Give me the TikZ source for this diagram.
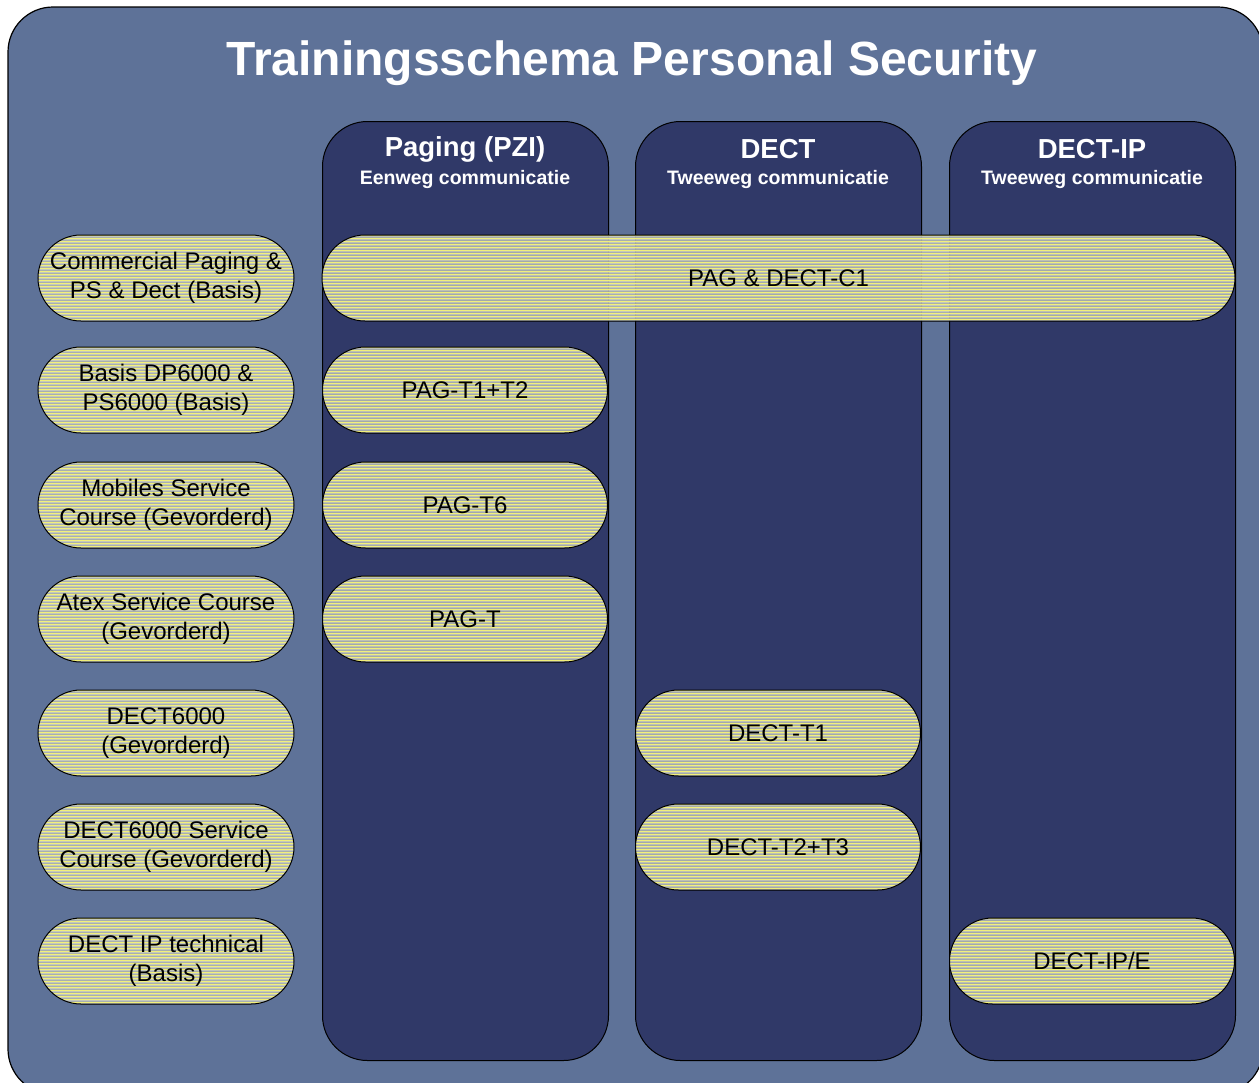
\documentclass[tikz,border=0pt]{standalone}
\usepackage{fontspec}
\setmainfont{Liberation Sans}
\definecolor{bgblue}{RGB}{94,114,152}
\definecolor{colblue}{RGB}{48,57,104}
\definecolor{pillbase}{RGB}{214,217,196}
\definecolor{stripeY}{RGB}{242,240,122}
\definecolor{stripeD}{RGB}{120,128,150}
\tikzset{
  pill/.style={rectangle, draw=black, line width=1bp, inner sep=0pt,
    minimum height=86bp, rounded corners=43bp, align=center,
    font=\fontsize{24bp}{29bp}\selectfont, text=black,
    path picture={
      \fill[pillbase, opacity=0.85, sharp corners] (path picture bounding box.north west)
        rectangle (path picture bounding box.south east);
      \foreach \k in {0,...,28}{
        \fill[stripeY, sharp corners] ([yshift=-\k*3bp]path picture bounding box.north west)
          rectangle ([yshift=-\k*3bp-1.1bp]path picture bounding box.north east);
        \fill[stripeD, opacity=0.35, sharp corners] ([yshift=-\k*3bp-2bp]path picture bounding box.north west)
          rectangle ([yshift=-\k*3bp-2.7bp]path picture bounding box.north east);
      }}},
  leftpill/.style={pill, minimum width=256bp},
  colpill/.style={pill, minimum width=285bp},
  column/.style={rectangle, draw=black, line width=1bp, fill=colblue,
    rounded corners=45bp, minimum width=286bp, minimum height=939bp,
    anchor=north west, inner sep=0pt},
  colhead/.style={text=white, font=\bfseries\fontsize{27.5bp}{30bp}\selectfont},
  colsub/.style={text=white, font=\bfseries\fontsize{19.5bp}{22bp}\selectfont},
}
\begin{document}
\begin{tikzpicture}[x=1bp,y=-1bp]
\useasboundingbox (0,0) rectangle (1259,1083);
\draw[fill=bgblue, line width=1.2bp, rounded corners=45bp] (8,7) rectangle (1263,1094);
\node[text=white, font=\bfseries\fontsize{48bp}{52bp}\selectfont] (title) at (632,63) {Trainingsschema Personal Security};

\node[column] (c1) at (322,121) {};
\node[column] (c2) at (635,121) {};
\node[column] (c3) at (949,121) {};

\node[colhead] (h1) at (465,149) {Paging (PZI)};
\node[colsub] (s1) at (465,179) {Eenweg communicatie};
\node[colhead] (h2) at (778,149) {DECT};
\node[colsub] (s2) at (778,179) {Tweeweg communicatie};
\node[colhead] (h3) at (1092,149) {DECT-IP};
\node[colsub] (s3) at (1092,179) {Tweeweg communicatie};

\node[leftpill] (l1) at (166,278) {Commercial Paging \&\\PS \& Dect (Basis)};
\node[leftpill] (l2) at (166,390) {Basis DP6000 \&\\PS6000 (Basis)};
\node[leftpill] (l3) at (166,505) {Mobiles Service\\Course (Gevorderd)};
\node[leftpill] (l4) at (166,619) {Atex Service Course\\(Gevorderd)};
\node[leftpill] (l5) at (166,733) {DECT6000\\(Gevorderd)};
\node[leftpill] (l6) at (166,847) {DECT6000 Service\\Course (Gevorderd)};
\node[leftpill] (l7) at (166,961) {DECT IP technical\\(Basis)};

\node[pill, minimum width=913bp] (p0) at (778.5,278) {PAG \& DECT-C1};
\node[colpill] (p1) at (465,390) {PAG-T1+T2};
\node[colpill] (p2) at (465,505) {PAG-T6};
\node[colpill] (p3) at (465,619) {PAG-T};
\node[colpill] (p4) at (778,733) {DECT-T1};
\node[colpill] (p5) at (778,847) {DECT-T2+T3};
\node[colpill] (p6) at (1092,961) {DECT-IP/E};
\end{tikzpicture}
\end{document}
